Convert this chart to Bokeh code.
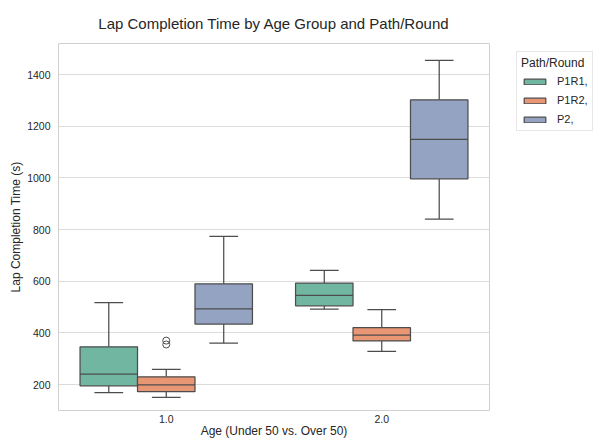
from bokeh.plotting import figure
from bokeh.models import Range1d, FixedTicker, Legend, LegendItem, Title
from bokeh.embed import file_html
from bokeh.resources import INLINE

# ---- data ----
age_groups = ["1.0", "2.0"]
paths = ["P1R1,", "P1R2,", "P2,"]
colors = ["#71b6a1", "#e99675", "#95a3c3"]

# per path: one value per age group
whisker_low = {"P1R1,": [169, 492], "P1R2,": [150, 328], "P2,": [360, 841]}
q1 = {"P1R1,": [195, 505], "P1R2,": [172, 369], "P2,": [434, 997]}
median = {"P1R1,": [240, 545], "P1R2,": [199, 391], "P2,": [493, 1150]}
q3 = {"P1R1,": [346, 593], "P1R2,": [230, 420], "P2,": [590, 1303]}
whisker_high = {"P1R1,": [517, 642], "P1R2,": [259, 490], "P2,": [774, 1456]}
# outliers: (age group index, value)
outlier_path = "P1R2,"
outlier_group = [0, 0]
outlier_values = [355, 370]

y_ticks = [200, 400, 600, 800, 1000, 1200, 1400]

TEXT = "#262626"
LINE = "#4d4d4d"
FONT = "Liberation Sans"

p = figure(frame_width=431, frame_height=367,
           x_range=Range1d(-0.5, 1.5), y_range=Range1d(99.3, 1521),
           output_backend="svg", toolbar_location=None,
           min_border_left=51, min_border_right=100, min_border_top=35, min_border_bottom=20,
           background_fill_color="white", border_fill_color="white")

p.title.text = "Lap Completion Time by Age Group and Path/Round"
p.title.align = "center"
p.title.text_font = FONT
p.title.text_font_size = "15px"
p.title.text_font_style = "normal"
p.title.text_color = TEXT
p.title.standoff = 24

p.outline_line_color = "#d0d0d0"
p.outline_line_width = 1
p.xgrid.grid_line_color = None
p.ygrid.grid_line_color = "#dcdcdc"
p.ygrid.grid_line_width = 1

p.xaxis.ticker = FixedTicker(ticks=list(range(len(age_groups))))
p.xaxis.major_label_overrides = {i: g for i, g in enumerate(age_groups)}
p.yaxis.ticker = FixedTicker(ticks=y_ticks)
p.xaxis.axis_label = "Age (Under 50 vs. Over 50)"
p.yaxis.axis_label = "Lap Completion Time (s)"
for ax in (p.xaxis[0], p.yaxis[0]):
    ax.axis_line_color = None
    ax.major_tick_line_color = None
    ax.minor_tick_line_color = None
    ax.major_tick_out = 0
    ax.major_tick_in = 0
    ax.major_label_text_font = FONT
    ax.major_label_text_font_size = "10.5px"
    ax.major_label_text_color = TEXT
    ax.axis_label_text_font = FONT
    ax.axis_label_text_font_size = "12px"
    ax.axis_label_text_font_style = "normal"
    ax.axis_label_text_color = TEXT
p.xaxis.major_label_standoff = 4
p.xaxis.axis_label_standoff = -2
p.yaxis.major_label_standoff = 8
p.yaxis.axis_label_standoff = 1

# small blank spacer outside the y axis label
p.add_layout(Title(text=" ", text_font_size="1px", standoff=3), "left")

slot = 0.8 / len(paths)
items = []
for j, path in enumerate(paths):
    off = (j - (len(paths) - 1) / 2) * slot
    xs = [i + off for i in range(len(age_groups))]
    left = [x - slot / 2 for x in xs]
    right = [x + slot / 2 for x in xs]
    cl = [x - slot / 4 for x in xs]
    cr = [x + slot / 4 for x in xs]
    # whiskers
    p.segment(x0=xs, y0=q3[path], x1=xs, y1=whisker_high[path], line_color=LINE, line_width=1.25)
    p.segment(x0=xs, y0=whisker_low[path], x1=xs, y1=q1[path], line_color=LINE, line_width=1.25)
    p.segment(x0=cl, y0=whisker_high[path], x1=cr, y1=whisker_high[path], line_color=LINE, line_width=1.25)
    p.segment(x0=cl, y0=whisker_low[path], x1=cr, y1=whisker_low[path], line_color=LINE, line_width=1.25)
    r = p.quad(left=left, right=right, bottom=q1[path], top=q3[path],
               fill_color=colors[j], line_color=LINE, line_width=1.25)
    p.segment(x0=left, y0=median[path], x1=right, y1=median[path], line_color=LINE, line_width=1.25)
    items.append(LegendItem(label=path, renderers=[r]))
    if path == outlier_path:
        ox = [g + off for g in outlier_group]
        p.scatter(x=ox, y=outlier_values, marker="circle", size=7,
                  fill_color=None, line_color=LINE, line_width=1)

legend = Legend(items=items, location=(27, 279))
legend.title = "Path/Round"
legend.title_text_font = FONT
legend.title_text_font_size = "12px"
legend.title_text_font_style = "normal"
legend.title_text_color = TEXT
legend.title_standoff = 4
legend.label_text_font = FONT
legend.label_text_font_size = "11px"
legend.label_text_color = TEXT
legend.glyph_width = 27
legend.glyph_height = 7
legend.label_height = 14
legend.label_standoff = 9
legend.spacing = 5
legend.padding = 4
legend.margin = 0
legend.border_line_color = "#d0d0d0"
legend.border_line_width = 1
legend.background_fill_color = "white"
legend.background_fill_alpha = 1.0
p.add_layout(legend, "right")

open("out.html", "w").write(file_html(p, INLINE))
